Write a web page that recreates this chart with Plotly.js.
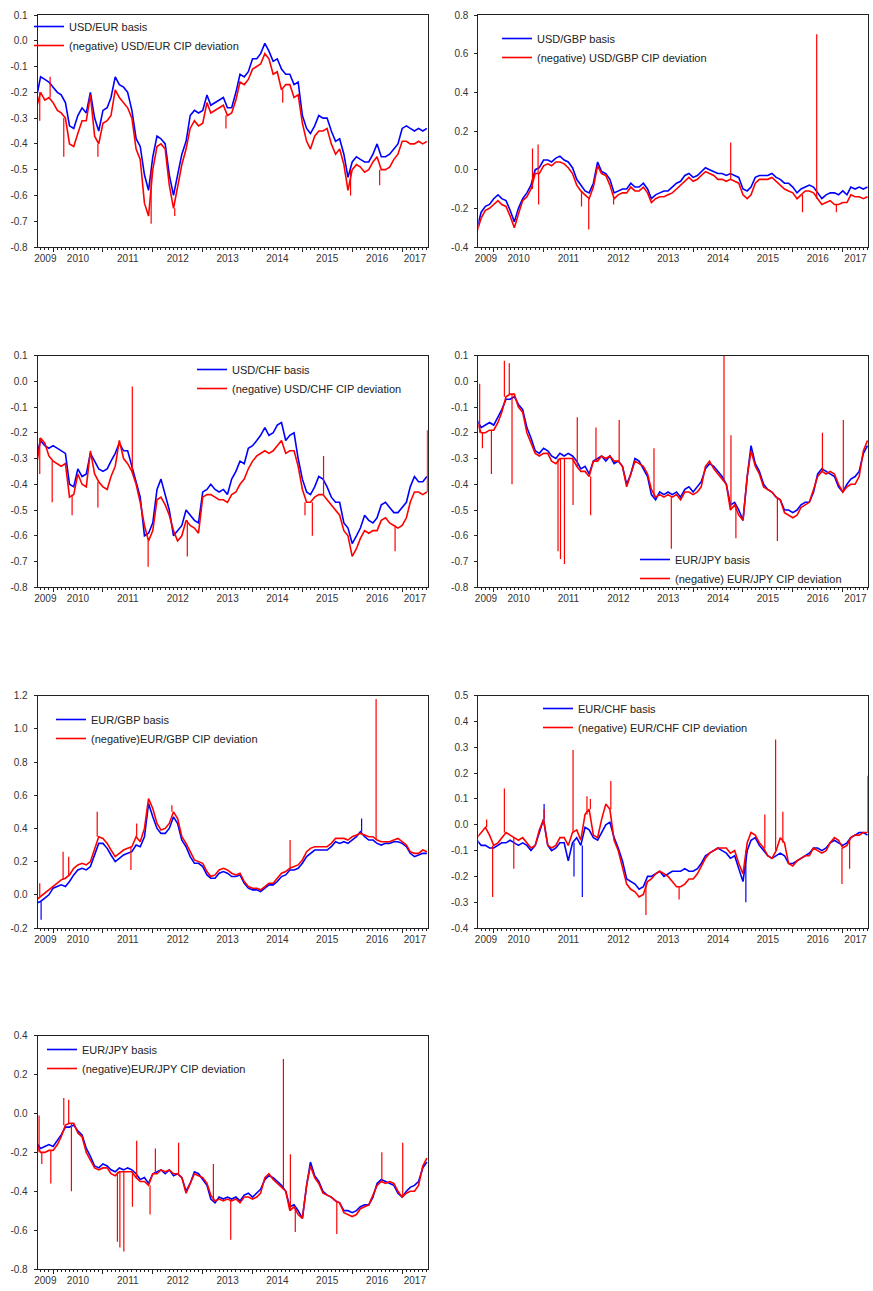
<!DOCTYPE html>
<html><head><meta charset="utf-8">
<script src="https://cdn.plot.ly/plotly-3.0.1.min.js"></script>
<style>html,body{margin:0;padding:0;background:#fff}#chart{width:873px;height:1291px}</style>
</head><body><div id="chart"></div>
<script>
// ---------- DATA ----------
const months = [
"2009-09","2009-10","2009-11","2009-12",
"2010-01","2010-02","2010-03","2010-04","2010-05","2010-06","2010-07","2010-08","2010-09","2010-10","2010-11","2010-12",
"2011-01","2011-02","2011-03","2011-04","2011-05","2011-06","2011-07","2011-08","2011-09","2011-10","2011-11","2011-12",
"2012-01","2012-02","2012-03","2012-04","2012-05","2012-06","2012-07","2012-08","2012-09","2012-10","2012-11","2012-12",
"2013-01","2013-02","2013-03","2013-04","2013-05","2013-06","2013-07","2013-08","2013-09","2013-10","2013-11","2013-12",
"2014-01","2014-02","2014-03","2014-04","2014-05","2014-06","2014-07","2014-08","2014-09","2014-10","2014-11","2014-12",
"2015-01","2015-02","2015-03","2015-04","2015-05","2015-06","2015-07","2015-08","2015-09","2015-10","2015-11","2015-12",
"2016-01","2016-02","2016-03","2016-04","2016-05","2016-06","2016-07","2016-08","2016-09","2016-10","2016-11","2016-12",
"2017-01","2017-02","2017-03","2017-04","2017-05","2017-06","2017-07"];

const yearLabels = ["2009","2010","2011","2012","2013","2014","2015","2016","2017"];

// USD/EUR
const usdEurBasis = [-0.22,-0.14,-0.15,-0.16,
-0.18,-0.20,-0.21,-0.24,-0.33,-0.34,-0.29,-0.26,-0.28,-0.20,-0.30,-0.35,
-0.27,-0.26,-0.22,-0.14,-0.17,-0.18,-0.20,-0.27,-0.38,-0.41,-0.52,-0.58,
-0.45,-0.37,-0.38,-0.40,-0.52,-0.60,-0.52,-0.44,-0.39,-0.29,-0.27,-0.28,
-0.27,-0.21,-0.25,-0.24,-0.23,-0.22,-0.26,-0.26,-0.20,-0.13,-0.14,-0.12,
-0.07,-0.07,-0.05,-0.01,-0.04,-0.08,-0.07,-0.11,-0.13,-0.13,-0.17,-0.16,
-0.29,-0.34,-0.36,-0.33,-0.29,-0.30,-0.30,-0.35,-0.39,-0.38,-0.44,-0.53,
-0.47,-0.45,-0.46,-0.47,-0.47,-0.44,-0.40,-0.45,-0.45,-0.44,-0.42,-0.40,
-0.34,-0.33,-0.34,-0.35,-0.34,-0.35,-0.34];
const usdEurCip = [-0.26,-0.20,-0.23,-0.22,
-0.24,-0.27,-0.28,-0.30,-0.40,-0.41,-0.36,-0.31,-0.31,-0.21,-0.37,-0.40,
-0.32,-0.31,-0.29,-0.19,-0.22,-0.24,-0.26,-0.30,-0.42,-0.46,-0.63,-0.68,
-0.50,-0.41,-0.40,-0.42,-0.56,-0.65,-0.57,-0.48,-0.42,-0.34,-0.31,-0.33,
-0.32,-0.24,-0.28,-0.27,-0.26,-0.25,-0.29,-0.28,-0.23,-0.16,-0.17,-0.15,
-0.11,-0.10,-0.09,-0.05,-0.07,-0.13,-0.12,-0.19,-0.17,-0.17,-0.22,-0.21,
-0.32,-0.39,-0.42,-0.37,-0.35,-0.35,-0.34,-0.40,-0.44,-0.42,-0.48,-0.58,
-0.50,-0.48,-0.49,-0.51,-0.50,-0.47,-0.45,-0.50,-0.50,-0.49,-0.46,-0.44,
-0.39,-0.39,-0.40,-0.40,-0.39,-0.40,-0.39];
const usdEurCipSpikeDates = ["2009-09-25","2009-12-10","2010-03-20","2010-11-25","2011-12-20","2012-06-10","2013-06-20","2014-08-10","2015-12-20","2016-07-20"];
const usdEurCipSpikeValues = [-0.31,-0.14,-0.45,-0.45,-0.71,-0.68,-0.34,-0.24,-0.60,-0.56];

// USD/GBP
const usdGbpBasis = [-0.30,-0.22,-0.19,-0.18,
-0.15,-0.13,-0.15,-0.16,-0.21,-0.27,-0.20,-0.15,-0.12,-0.08,0.00,0.01,
0.05,0.05,0.04,0.06,0.07,0.05,0.04,0.01,-0.05,-0.08,-0.11,-0.12,
-0.07,0.04,-0.01,-0.02,-0.05,-0.12,-0.11,-0.10,-0.10,-0.07,-0.09,-0.09,
-0.07,-0.10,-0.15,-0.13,-0.12,-0.11,-0.11,-0.09,-0.07,-0.06,-0.03,-0.02,
-0.04,-0.03,-0.01,0.01,0.00,-0.01,-0.02,-0.02,-0.03,-0.02,-0.03,-0.04,
-0.10,-0.11,-0.09,-0.04,-0.03,-0.03,-0.03,-0.02,-0.04,-0.05,-0.07,-0.07,
-0.09,-0.12,-0.10,-0.09,-0.08,-0.09,-0.12,-0.15,-0.13,-0.12,-0.12,-0.13,
-0.11,-0.13,-0.09,-0.10,-0.09,-0.10,-0.09];
const usdGbpCip = [-0.32,-0.25,-0.21,-0.20,
-0.18,-0.16,-0.18,-0.19,-0.24,-0.30,-0.23,-0.16,-0.14,-0.10,-0.02,-0.02,
0.02,0.03,0.02,0.04,0.04,0.03,0.01,-0.02,-0.08,-0.11,-0.13,-0.15,
-0.09,0.02,-0.02,-0.03,-0.08,-0.15,-0.13,-0.12,-0.12,-0.09,-0.11,-0.11,
-0.09,-0.12,-0.17,-0.15,-0.14,-0.14,-0.13,-0.12,-0.10,-0.08,-0.06,-0.04,
-0.06,-0.05,-0.03,-0.01,-0.02,-0.03,-0.05,-0.05,-0.06,-0.05,-0.06,-0.07,
-0.13,-0.15,-0.13,-0.07,-0.05,-0.05,-0.05,-0.04,-0.06,-0.08,-0.10,-0.11,
-0.12,-0.15,-0.13,-0.11,-0.11,-0.12,-0.15,-0.18,-0.17,-0.16,-0.18,-0.18,
-0.17,-0.17,-0.13,-0.14,-0.14,-0.15,-0.14];
const usdGbpCipSpikeDates = ["2010-10-12","2010-11-22","2010-11-26","2011-10-06","2011-11-28","2012-05-28","2014-10-03","2016-03-12","2016-06-24","2016-11-15"];
const usdGbpCipSpikeValues = [0.11,0.13,-0.18,-0.19,-0.31,-0.18,0.14,-0.22,0.70,-0.22];

// USD/CHF
const usdChfBasis = [-0.29,-0.23,-0.25,-0.26,
-0.25,-0.26,-0.27,-0.28,-0.40,-0.41,-0.34,-0.37,-0.36,-0.28,-0.31,-0.34,
-0.35,-0.34,-0.31,-0.28,-0.24,-0.27,-0.27,-0.33,-0.40,-0.45,-0.60,-0.59,
-0.55,-0.42,-0.38,-0.44,-0.50,-0.60,-0.58,-0.56,-0.50,-0.52,-0.54,-0.55,
-0.43,-0.42,-0.40,-0.42,-0.43,-0.42,-0.44,-0.38,-0.35,-0.31,-0.32,-0.26,
-0.25,-0.23,-0.21,-0.18,-0.21,-0.20,-0.17,-0.16,-0.23,-0.21,-0.20,-0.30,
-0.38,-0.43,-0.44,-0.41,-0.37,-0.38,-0.41,-0.45,-0.47,-0.47,-0.55,-0.57,
-0.63,-0.60,-0.57,-0.52,-0.54,-0.55,-0.53,-0.48,-0.47,-0.49,-0.51,-0.51,
-0.49,-0.47,-0.41,-0.37,-0.39,-0.39,-0.37];
const usdChfCip = [-0.33,-0.22,-0.24,-0.29,
-0.31,-0.32,-0.33,-0.32,-0.45,-0.44,-0.36,-0.40,-0.41,-0.27,-0.36,-0.39,
-0.41,-0.42,-0.37,-0.33,-0.23,-0.30,-0.32,-0.35,-0.40,-0.47,-0.56,-0.62,
-0.58,-0.46,-0.45,-0.48,-0.52,-0.58,-0.62,-0.60,-0.54,-0.56,-0.57,-0.59,
-0.45,-0.44,-0.44,-0.45,-0.46,-0.46,-0.47,-0.44,-0.43,-0.40,-0.38,-0.34,
-0.31,-0.29,-0.28,-0.27,-0.28,-0.27,-0.25,-0.23,-0.28,-0.27,-0.27,-0.33,
-0.42,-0.47,-0.47,-0.45,-0.44,-0.44,-0.46,-0.48,-0.50,-0.52,-0.58,-0.60,
-0.68,-0.65,-0.61,-0.58,-0.59,-0.58,-0.58,-0.54,-0.53,-0.55,-0.56,-0.57,
-0.56,-0.53,-0.47,-0.43,-0.43,-0.44,-0.43];
const usdChfCipSpikeDates = ["2009-09-25","2009-12-25","2010-05-20","2010-11-25","2011-08-04","2011-11-28","2012-09-10","2015-01-20","2015-03-15","2015-06-05","2016-11-10","2017-07-05"];
const usdChfCipSpikeValues = [-0.36,-0.47,-0.52,-0.49,-0.02,-0.72,-0.68,-0.52,-0.60,-0.29,-0.66,-0.19];

// EUR/JPY
const eurJpyBasis = [-0.15,-0.18,-0.17,-0.16,
-0.17,-0.14,-0.11,-0.07,-0.07,-0.06,-0.09,-0.11,-0.18,-0.22,-0.27,-0.28,
-0.26,-0.27,-0.29,-0.30,-0.28,-0.29,-0.28,-0.29,-0.31,-0.34,-0.33,-0.36,
-0.31,-0.30,-0.29,-0.31,-0.29,-0.32,-0.31,-0.33,-0.40,-0.36,-0.30,-0.31,
-0.34,-0.37,-0.44,-0.46,-0.43,-0.44,-0.43,-0.44,-0.43,-0.45,-0.42,-0.41,
-0.43,-0.41,-0.39,-0.34,-0.32,-0.33,-0.35,-0.37,-0.40,-0.48,-0.47,-0.50,
-0.54,-0.37,-0.25,-0.32,-0.35,-0.40,-0.42,-0.43,-0.45,-0.46,-0.50,-0.50,
-0.51,-0.50,-0.48,-0.47,-0.47,-0.43,-0.36,-0.34,-0.35,-0.36,-0.37,-0.41,
-0.43,-0.40,-0.38,-0.37,-0.35,-0.28,-0.25];
const eurJpyCip = [-0.16,-0.20,-0.20,-0.19,
-0.19,-0.16,-0.12,-0.06,-0.05,-0.05,-0.10,-0.12,-0.20,-0.24,-0.28,-0.29,
-0.28,-0.28,-0.31,-0.32,-0.30,-0.30,-0.30,-0.30,-0.33,-0.35,-0.35,-0.37,
-0.31,-0.31,-0.29,-0.30,-0.29,-0.31,-0.31,-0.33,-0.41,-0.36,-0.31,-0.32,
-0.33,-0.36,-0.42,-0.45,-0.44,-0.45,-0.44,-0.45,-0.44,-0.46,-0.43,-0.43,
-0.44,-0.43,-0.41,-0.33,-0.31,-0.34,-0.36,-0.38,-0.40,-0.50,-0.48,-0.52,
-0.54,-0.37,-0.27,-0.33,-0.36,-0.41,-0.42,-0.43,-0.45,-0.46,-0.51,-0.52,
-0.53,-0.52,-0.49,-0.48,-0.47,-0.42,-0.37,-0.35,-0.36,-0.35,-0.36,-0.40,
-0.43,-0.41,-0.40,-0.40,-0.37,-0.27,-0.23];
const eurJpyCipSpikeDates = ["2009-09-20","2009-10-10","2009-12-15","2010-03-20","2010-04-25","2010-05-15","2011-04-17","2011-05-05","2011-06-03","2011-08-05","2011-09-05","2011-12-12","2012-01-20","2012-07-08","2013-03-20","2013-07-25","2014-08-15","2014-10-05","2014-11-10","2015-09-10","2016-08-05","2017-01-05"];
const eurJpyCipSpikeValues = [-0.01,-0.26,-0.36,0.08,0.07,-0.40,-0.66,-0.69,-0.71,-0.48,-0.14,-0.52,-0.18,-0.15,-0.26,-0.65,0.28,-0.21,-0.61,-0.62,-0.20,-0.15];

// EUR/GBP
const eurGbpBasis = [-0.05,-0.04,-0.02,0.00,
0.04,0.05,0.06,0.05,0.08,0.12,0.15,0.16,0.15,0.17,0.24,0.31,
0.31,0.28,0.24,0.20,0.22,0.24,0.25,0.26,0.30,0.29,0.35,0.55,
0.47,0.40,0.37,0.37,0.40,0.47,0.43,0.33,0.29,0.23,0.19,0.19,
0.17,0.12,0.10,0.10,0.13,0.14,0.13,0.11,0.11,0.12,0.07,0.04,
0.03,0.03,0.02,0.04,0.06,0.06,0.08,0.11,0.12,0.15,0.15,0.16,
0.19,0.23,0.25,0.27,0.27,0.27,0.27,0.29,0.32,0.31,0.32,0.31,
0.33,0.35,0.38,0.35,0.33,0.33,0.31,0.30,0.31,0.31,0.32,0.32,
0.31,0.29,0.25,0.23,0.24,0.25,0.25];
const eurGbpCip = [-0.03,-0.01,0.01,0.03,
0.05,0.07,0.09,0.10,0.12,0.16,0.18,0.19,0.18,0.20,0.27,0.35,
0.34,0.31,0.27,0.23,0.25,0.27,0.28,0.29,0.35,0.32,0.40,0.58,
0.52,0.43,0.39,0.40,0.43,0.50,0.46,0.35,0.31,0.26,0.21,0.20,
0.19,0.14,0.11,0.12,0.15,0.16,0.15,0.13,0.12,0.13,0.08,0.05,
0.04,0.04,0.03,0.05,0.07,0.07,0.10,0.13,0.14,0.16,0.17,0.18,
0.21,0.26,0.28,0.29,0.29,0.29,0.29,0.31,0.34,0.34,0.34,0.33,
0.35,0.36,0.37,0.36,0.35,0.35,0.33,0.32,0.32,0.32,0.33,0.34,
0.32,0.30,0.26,0.25,0.25,0.27,0.26];
const eurGbpBasisSpikeDates = ["2009-10-05","2016-03-10"];
const eurGbpBasisSpikeValues = [-0.15,0.46];
const eurGbpCipSpikeDates = ["2009-09-25","2010-03-15","2010-04-25","2010-11-20","2011-07-25","2011-09-05","2012-05-20","2014-10-03","2016-06-24"];
const eurGbpCipSpikeValues = [0.07,0.26,0.23,0.50,0.15,0.43,0.54,0.33,1.18];

// EUR/CHF
const eurChfBasis = [-0.06,-0.08,-0.08,-0.09,
-0.09,-0.08,-0.07,-0.07,-0.06,-0.07,-0.08,-0.07,-0.08,-0.10,-0.08,-0.03,
0.02,-0.08,-0.10,-0.09,-0.07,-0.07,-0.14,-0.07,-0.05,-0.08,-0.01,-0.02,
-0.05,-0.06,-0.03,0.00,0.01,-0.05,-0.09,-0.14,-0.21,-0.22,-0.23,-0.25,
-0.24,-0.20,-0.20,-0.19,-0.18,-0.20,-0.19,-0.18,-0.18,-0.18,-0.17,-0.18,
-0.18,-0.17,-0.15,-0.12,-0.11,-0.10,-0.09,-0.10,-0.11,-0.13,-0.12,-0.17,
-0.22,-0.10,-0.06,-0.05,-0.08,-0.10,-0.12,-0.13,-0.12,-0.11,-0.12,-0.15,
-0.15,-0.14,-0.13,-0.12,-0.11,-0.09,-0.09,-0.10,-0.09,-0.07,-0.06,-0.07,
-0.08,-0.07,-0.05,-0.04,-0.03,-0.03,-0.04];
const eurChfCip = [-0.05,-0.03,-0.01,-0.04,
-0.08,-0.07,-0.05,-0.03,-0.04,-0.05,-0.06,-0.05,-0.07,-0.09,-0.08,-0.02,
0.02,-0.08,-0.09,-0.08,-0.05,-0.05,-0.08,-0.03,-0.02,-0.06,0.04,0.06,
-0.04,-0.05,0.02,0.08,0.06,-0.06,-0.10,-0.16,-0.23,-0.25,-0.26,-0.28,
-0.27,-0.22,-0.21,-0.19,-0.18,-0.19,-0.20,-0.22,-0.24,-0.24,-0.23,-0.21,
-0.21,-0.19,-0.16,-0.13,-0.11,-0.10,-0.09,-0.09,-0.09,-0.11,-0.10,-0.15,
-0.19,-0.07,-0.03,-0.04,-0.07,-0.09,-0.12,-0.13,-0.10,-0.05,-0.07,-0.15,
-0.16,-0.14,-0.13,-0.12,-0.12,-0.09,-0.10,-0.11,-0.10,-0.07,-0.05,-0.06,
-0.09,-0.08,-0.05,-0.04,-0.04,-0.03,-0.03];
const eurChfBasisSpikeDates = ["2011-01-05","2011-08-12","2011-10-12","2015-01-22"];
const eurChfBasisSpikeValues = [0.08,-0.20,-0.28,-0.30];
const eurChfCipSpikeDates = ["2009-11-10","2009-12-24","2010-03-20","2010-05-28","2011-01-05","2011-08-05","2011-11-15","2011-12-10","2012-05-08","2013-01-20","2013-09-20","2015-06-10","2015-08-28","2015-10-20","2016-12-26","2017-02-20","2017-07-05"];
const eurChfCipSpikeValues = [0.02,-0.28,0.14,-0.17,0.06,0.29,0.11,0.10,0.17,-0.35,-0.29,0.04,0.33,0.05,-0.23,-0.17,0.19];

// y tick labels
const usdEurYTicks = ["0.1","0.0","-0.1","-0.2","-0.3","-0.4","-0.5","-0.6","-0.7","-0.8"];
const usdGbpYTicks = ["0.8","0.6","0.4","0.2","0.0","-0.2","-0.4"];
const usdChfYTicks = ["0.1","0.0","-0.1","-0.2","-0.3","-0.4","-0.5","-0.6","-0.7","-0.8"];
const eurJpyYTicks = ["0.1","0.0","-0.1","-0.2","-0.3","-0.4","-0.5","-0.6","-0.7","-0.8"];
const eurGbpYTicks = ["1.2","1.0","0.8","0.6","0.4","0.2","0.0","-0.2"];
const eurChfYTicks = ["0.5","0.4","0.3","0.2","0.1","0.0","-0.1","-0.2","-0.3","-0.4"];
const eurJpyWideYTicks = ["0.4","0.2","0.0","-0.2","-0.4","-0.6","-0.8"];

// ---------- BUILD ----------
const W = 873, H = 1291;
const FONT = "Liberation Sans, Arial, sans-serif";
const X_START = "2009-09-10", X_END = "2017-07-07";
const colPx = [[37.7, 427.7], [478.3, 868.3]];
const rowPx = [[15, 247], [355.5, 587.3], [695.7, 928], [1035.7, 1269]];
const BLUE = "#0000ff", RED = "#ff0000";

function toMs(s){ return new Date(s.length === 7 ? s + "-01T00:00:00Z" : s + "T00:00:00Z").getTime(); }
const monthMs = months.map(toMs);

function series(base) {
  return { x: months.map(m => m + "-01"), y: base.slice() };
}
// spikes: vertical strokes rising from the series level of the nearest month
function spikes(base, dates, values) {
  const x = [], y = [];
  (dates || []).forEach((d, i) => {
    const t = toMs(d);
    let best = 0;
    monthMs.forEach((m, j) => { if (Math.abs(m - t) < Math.abs(monthMs[best] - t)) best = j; });
    x.push(d, d, null);
    y.push(base[best], values[i], null);
  });
  return { x, y };
}

const panels = [
  {col:0,row:0,basis:usdEurBasis,cip:usdEurCip,cd:usdEurCipSpikeDates,cv:usdEurCipSpikeValues,yt:usdEurYTicks,
   n1:"USD/EUR basis",n2:"(negative) USD/EUR CIP deviation",lx:70,lr:26},
  {col:1,row:0,basis:usdGbpBasis,cip:usdGbpCip,cd:usdGbpCipSpikeDates,cv:usdGbpCipSpikeValues,yt:usdGbpYTicks,
   n1:"USD/GBP basis",n2:"(negative) USD/GBP CIP deviation",lx:538,lr:38},
  {col:0,row:1,basis:usdChfBasis,cip:usdChfCip,cd:usdChfCipSpikeDates,cv:usdChfCipSpikeValues,yt:usdChfYTicks,
   n1:"USD/CHF basis",n2:"(negative) USD/CHF CIP deviation",lx:233,lr:369},
  {col:1,row:1,basis:eurJpyBasis,cip:eurJpyCip,cd:eurJpyCipSpikeDates,cv:eurJpyCipSpikeValues,yt:eurJpyYTicks,
   n1:"EUR/JPY basis",n2:"(negative) EUR/JPY CIP deviation",lx:676,lr:559},
  {col:0,row:2,basis:eurGbpBasis,cip:eurGbpCip,bd:eurGbpBasisSpikeDates,bv:eurGbpBasisSpikeValues,cd:eurGbpCipSpikeDates,cv:eurGbpCipSpikeValues,yt:eurGbpYTicks,
   n1:"EUR/GBP basis",n2:"(negative)EUR/GBP CIP deviation",lx:92,lr:719},
  {col:1,row:2,basis:eurChfBasis,cip:eurChfCip,bd:eurChfBasisSpikeDates,bv:eurChfBasisSpikeValues,cd:eurChfCipSpikeDates,cv:eurChfCipSpikeValues,yt:eurChfYTicks,
   n1:"EUR/CHF basis",n2:"(negative) EUR/CHF CIP deviation",lx:579,lr:708},
  {col:0,row:3,basis:eurJpyBasis,cip:eurJpyCip,cd:eurJpyCipSpikeDates,cv:eurJpyCipSpikeValues,yt:eurJpyWideYTicks,
   n1:"EUR/JPY basis",n2:"(negative)EUR/JPY CIP deviation",lx:83,lr:1049}
];

const yearStarts = yearLabels.slice(1).map(y => y + "-01-01");
const labelPos = yearLabels.map(y => {
  const a = Math.max(toMs(y + "-01-01"), toMs(X_START));
  const b = Math.min(toMs((+y + 1) + "-01-01"), toMs(X_END));
  return new Date((a + b) / 2).toISOString().slice(0, 10);
});

const traces = [];
const layout = {
  width: W, height: H, margin: {l:0, r:0, t:0, b:0},
  paper_bgcolor: "#fff", plot_bgcolor: "#fff",
  font: {family: FONT, size: 10, color: "#333"},
  showlegend: true
};

panels.forEach((p, k) => {
  const i = k + 1;
  const xs = i === 1 ? "" : String(i);
  const xl = String(i + 7);
  const dx = [colPx[p.col][0] / W, colPx[p.col][1] / W];
  const dy = [1 - rowPx[p.row][1] / H, 1 - rowPx[p.row][0] / H];
  const legKey = i === 1 ? "legend" : "legend" + i;
  const b = series(p.basis), c = series(p.cip);
  const bs = spikes(p.basis, p.bd, p.bv), cs = spikes(p.cip, p.cd, p.cv);
  const common = {type:"scatter", mode:"lines", xaxis:"x"+xs, yaxis:"y"+xs, legend:legKey, hoverinfo:"skip"};
  traces.push(Object.assign({}, common, {x:b.x, y:b.y, name:p.n1, legendgroup:"b"+i, line:{color:BLUE, width:1.6}}));
  traces.push(Object.assign({}, common, {x:bs.x, y:bs.y, name:p.n1, legendgroup:"b"+i, showlegend:false, connectgaps:false, line:{color:BLUE, width:1.2}}));
  traces.push(Object.assign({}, common, {x:c.x, y:c.y, name:p.n2, legendgroup:"c"+i, line:{color:RED, width:1.6}}));
  traces.push(Object.assign({}, common, {x:cs.x, y:cs.y, name:p.n2, legendgroup:"c"+i, showlegend:false, connectgaps:false, line:{color:RED, width:1.2}}));
  traces.push({type:"scatter", mode:"lines", x:[], y:[], xaxis:"x"+xl, yaxis:"y"+xs, showlegend:false, hoverinfo:"skip"});

  const yvals = p.yt.map(Number);
  layout["xaxis" + xs] = {
    domain: dx, anchor: "y" + xs, type: "date", range: [X_START, X_END],
    showgrid: false, zeroline: false, showline: true, mirror: true, linecolor: "#222", linewidth: 1,
    tickmode: "array", tickvals: yearStarts, ticks: "outside", ticklen: 4, tickcolor: "#222",
    showticklabels: false,
    minor: {ticks: "outside", ticklen: 2, tickcolor: "#222", dtick: "M1", tick0: "2009-01-01", showgrid: false}
  };
  layout["xaxis" + xl] = {
    overlaying: "x" + xs, anchor: "y" + xs, type: "date", range: [X_START, X_END], side: "bottom",
    showgrid: false, zeroline: false, showline: false,
    tickmode: "array", tickvals: labelPos, ticktext: yearLabels, ticks: "",
    ticklabelstandoff: 4, tickfont: {family: FONT, size: 10, color: "#333"}
  };
  layout["yaxis" + xs] = {
    domain: dy, anchor: "x" + xs, range: [Math.min(...yvals), Math.max(...yvals)],
    showgrid: false, zeroline: false, showline: true, mirror: true, linecolor: "#222", linewidth: 1,
    tickmode: "array", tickvals: yvals, ticktext: p.yt, ticks: "outside", ticklen: 3, tickcolor: "#222",
    ticklabelstandoff: 4, tickfont: {family: FONT, size: 10, color: "#333"}
  };
  layout[legKey] = {
    x: (p.lx - 41) / W, y: 1 - (p.lr - 14) / H, xanchor: "left", yanchor: "top",
    bgcolor: "rgba(0,0,0,0)", borderwidth: 0, tracegroupgap: 0, traceorder: "normal",
    font: {family: FONT, size: 11, color: "#222"}
  };
});

Plotly.newPlot("chart", traces, layout, {staticPlot: true, displayModeBar: false});
</script>
</body></html>
